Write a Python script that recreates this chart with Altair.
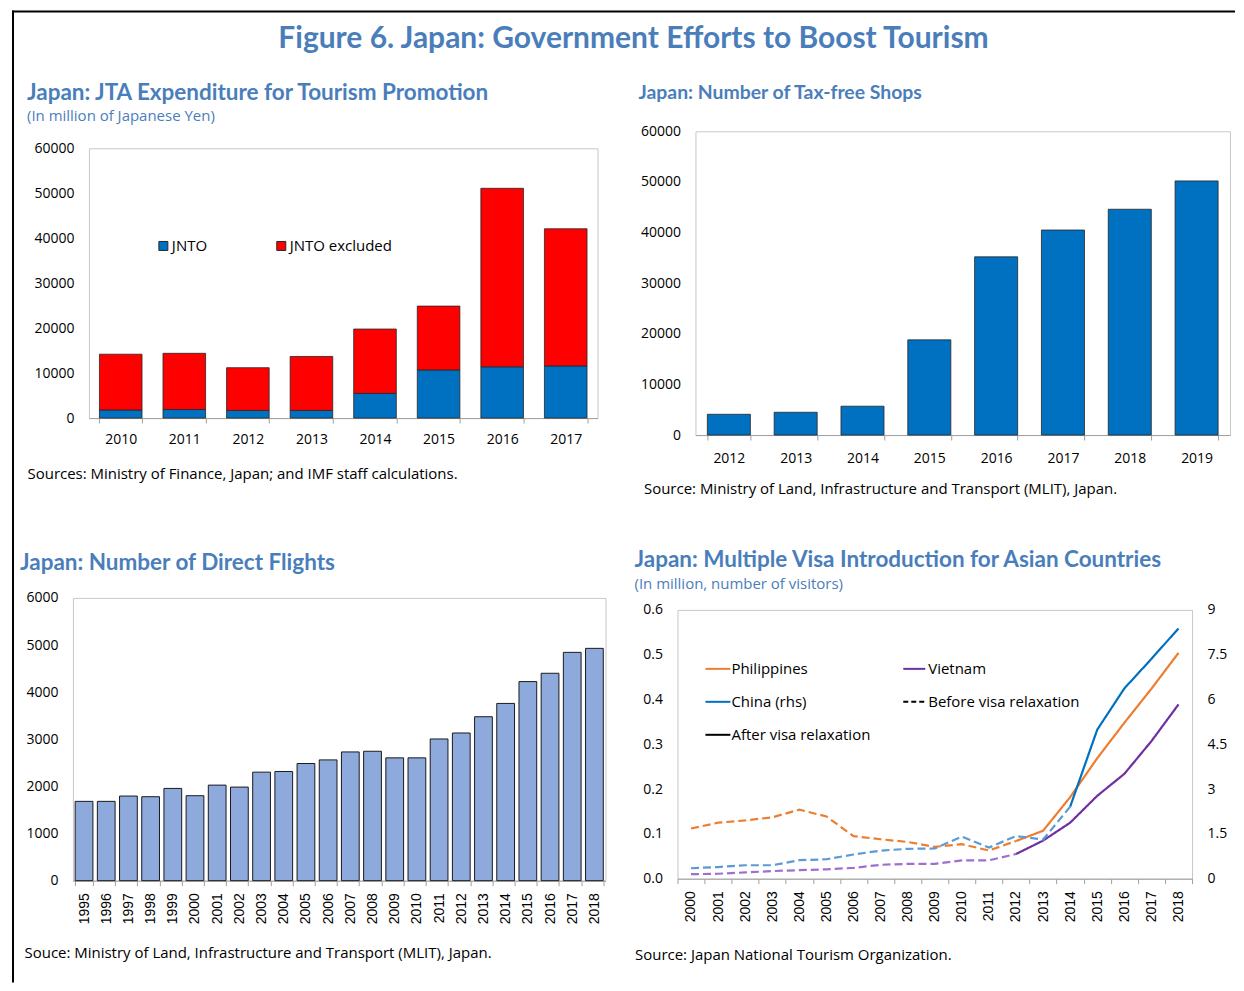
import altair as alt
import pandas as pd

TITLE_BLUE = "#4A7EBB"
TITLE_FONT = "Lato"
FONT = "Open Sans"
YEAR_FONT = "Liberation Sans"
FRAME_GREY = "#c8c8c8"
AXIS_GREY = "#a0a0a0"
BAR_EDGE = "#262626"

fig_title = "Figure 6. Japan: Government Efforts to Boost Tourism"

# ---------------- Panel 1: JTA expenditure ----------------
jta_title = "Japan: JTA Expenditure for Tourism Promotion"
jta_subtitle = "(In million of Japanese Yen)"
jta_source = "Sources: Ministry of Finance, Japan; and IMF staff calculations."
jta_years = ["2010", "2011", "2012", "2013", "2014", "2015", "2016", "2017"]
jnto = [1800, 1900, 1700, 1700, 5500, 10700, 11400, 11600]
jnto_excluded = [12400, 12500, 9500, 12000, 14300, 14200, 39700, 30500]
jta_series = ["JNTO", "JNTO excluded"]
jta_colors = ["#0070C0", "#FF0000"]
jta_ticks = [0, 10000, 20000, 30000, 40000, 50000, 60000]

# ---------------- Panel 2: tax-free shops ----------------
shop_title = "Japan: Number of Tax-free Shops"
shop_source = "Source: Ministry of Land, Infrastructure and Transport (MLIT), Japan."
shop_years = ["2012", "2013", "2014", "2015", "2016", "2017", "2018", "2019"]
tax_free_shops = [4100, 4500, 5700, 18800, 35200, 40500, 44600, 50200]
shop_ticks = [0, 10000, 20000, 30000, 40000, 50000, 60000]

# ---------------- Panel 3: direct flights ----------------
flight_title = "Japan: Number of Direct Flights"
flight_source = "Souce: Ministry of Land, Infrastructure and Transport (MLIT), Japan."
flight_years = ["1995", "1996", "1997", "1998", "1999", "2000", "2001", "2002",
                "2003", "2004", "2005", "2006", "2007", "2008", "2009", "2010",
                "2011", "2012", "2013", "2014", "2015", "2016", "2017", "2018"]
direct_flights = [1683, 1683, 1796, 1782, 1958, 1803, 2028, 1986,
                  2303, 2317, 2486, 2563, 2732, 2746, 2606, 2606,
                  3007, 3134, 3479, 3761, 4225, 4401, 4845, 4930]
flight_ticks = [0, 1000, 2000, 3000, 4000, 5000, 6000]

# ---------------- Panel 4: visitors ----------------
visa_title = "Japan: Multiple Visa Introduction for Asian Countries"
visa_subtitle = "(In million, number of visitors)"
visa_source = "Source: Japan National Tourism Organization."
visa_years = ["2000", "2001", "2002", "2003", "2004", "2005", "2006", "2007", "2008", "2009",
              "2010", "2011", "2012", "2013", "2014", "2015", "2016", "2017", "2018"]
philippines = [0.112, 0.125, 0.130, 0.137, 0.154, 0.139, 0.095, 0.088, 0.082, 0.071,
               0.077, 0.063, 0.084, 0.107, 0.182, 0.269, 0.348, 0.424, 0.504]
vietnam = [0.010, 0.011, 0.014, 0.017, 0.019, 0.021, 0.024, 0.031, 0.033, 0.033,
           0.041, 0.041, 0.055, 0.085, 0.125, 0.185, 0.234, 0.307, 0.389]
china = [0.35, 0.39, 0.45, 0.45, 0.62, 0.65, 0.81, 0.94, 1.00, 1.01,
         1.41, 1.04, 1.43, 1.31, 2.41, 4.99, 6.37, 7.36, 8.38]
visa_series = ["Philippines", "Vietnam", "China (rhs)"]
relax_year = ["2012", "2012", "2014"]
before_colors = ["#ED7D31", "#9E6FCF", "#5B9BD5"]
after_colors = ["#ED7D31", "#7030A0", "#0070C0"]
left_ticks = [0, 0.1, 0.2, 0.3, 0.4, 0.5, 0.6]
right_ticks = [0, 1.5, 3, 4.5, 6, 7.5, 9]
legend_labels = ["Philippines", "Vietnam", "China (rhs)", "Before visa relaxation", "After visa relaxation"]
legend_colors = ["#ED7D31", "#7030A0", "#0070C0", "#000000", "#000000"]
legend_phase = ["after", "after", "after", "before", "after"]


def source_axis(text, tx, ty, **kw):
    return alt.Axis(title=text, titleX=tx, titleY=ty, titleAlign="left", titleBaseline="middle",
                    titleFont=FONT, titleFontSize=15, titleFontWeight="normal", titleColor="black",
                    tickBand="extent", tickSize=5, domainColor=AXIS_GREY, tickColor=AXIS_GREY, **kw)


def value_axis(vals, fmt, **kw):
    return alt.Axis(values=vals, format=fmt, ticks=False, domain=False, grid=False,
                    labelPadding=15, title=None, **kw)


def spacer(w, h):
    return alt.Chart(pd.DataFrame({"v": [0]})).mark_point(opacity=0).properties(
        width=w, height=h, view=alt.ViewBackground(stroke=None))


# ---- frame border + main title (decorations, placed in a spacer) ----
one = pd.DataFrame({"t": [fig_title]})
border_left = alt.Chart(one).mark_rule(color="black", strokeWidth=2).encode(
    x=alt.value(-60), y=alt.value(-121), y2=alt.value(852))
border_top = alt.Chart(one).mark_rule(color="black", strokeWidth=2).encode(
    x=alt.value(-61), x2=alt.value(1163), y=alt.value(-120))
main_title = alt.Chart(one).mark_text(font=TITLE_FONT, fontSize=30, fontWeight="bold", color=TITLE_BLUE,
                                      align="center", baseline="middle").encode(
    text="t:N", x=alt.value(561), y=alt.value(-92))
deco = alt.layer(border_left, border_top, main_title).properties(
    width=16, height=304, view=alt.ViewBackground(stroke=None))

# ---- Panel 1 ----
n1 = len(jta_years)
df1 = pd.DataFrame({
    "year": jta_years * 2,
    "series": [jta_series[0]] * n1 + [jta_series[1]] * n1,
    "value": jnto + jnto_excluded,
    "stack_order": [0] * n1 + [1] * n1,
})
c1 = alt.Chart(df1).mark_bar(stroke=BAR_EDGE, strokeWidth=0.8).encode(
    x=alt.X("year:N", scale=alt.Scale(paddingInner=0.33, paddingOuter=0.165),
            axis=source_axis(jta_source, -62, 55, labelAngle=0, labelPadding=9)),
    y=alt.Y("value:Q", stack="zero", scale=alt.Scale(domain=[0, 60000], nice=False),
            axis=value_axis(jta_ticks, "d")),
    color=alt.Color("series:N", scale=alt.Scale(domain=jta_series, range=jta_colors),
                    legend=alt.Legend(title=None, orient="none", legendX=83, legendY=107,
                                      direction="horizontal", symbolType="square", symbolSize=81,
                                      symbolStrokeColor=BAR_EDGE, symbolStrokeWidth=1,
                                      labelFont=FONT, labelFontSize=15, labelOffset=1,
                                      columnPadding=66, padding=0)),
    order=alt.Order("stack_order:Q"),
).properties(width=509, height=270,
             title=alt.TitleParams(text=jta_title, subtitle=jta_subtitle, fontSize=22.5,
                                   subtitleFontSize=15, dx=-62, offset=17, subtitlePadding=5))

# ---- Panel 2 ----
df2 = pd.DataFrame({"year": shop_years, "shops": tax_free_shops})
c2 = alt.Chart(df2).mark_bar(color="#0070C0", stroke=BAR_EDGE, strokeWidth=0.8).encode(
    x=alt.X("year:N", scale=alt.Scale(paddingInner=0.356, paddingOuter=0.178),
            axis=source_axis(shop_source, -52, 53, labelAngle=0, labelPadding=11)),
    y=alt.Y("shops:Q", scale=alt.Scale(domain=[0, 60000], nice=False),
            axis=value_axis(shop_ticks, "d")),
).properties(width=535, height=304,
             title=alt.TitleParams(text=shop_title, fontSize=19.4, dx=-57, offset=21))

# ---- Panel 3 ----
df3 = pd.DataFrame({"year": flight_years, "flights": direct_flights})
c3 = alt.Chart(df3).mark_bar(color="#8EA9DB", stroke="#1a1a1a", strokeWidth=1).encode(
    x=alt.X("year:N", scale=alt.Scale(paddingInner=0.2, paddingOuter=0.1),
            axis=source_axis(flight_source, -49, 72, labelAngle=-90, labelFont=YEAR_FONT,
                             labelFontSize=14, labelPadding=7)),
    y=alt.Y("flights:Q", scale=alt.Scale(domain=[0, 6000], nice=False),
            axis=value_axis(flight_ticks, "d")),
).properties(width=533, height=283,
             title=alt.TitleParams(text=flight_title, fontSize=22.5, dx=-53, offset=16))

# ---- Panel 4 ----
rows = []
for name, vals, ry, cb, ca in zip(visa_series, [philippines, vietnam, china], relax_year,
                                  before_colors, after_colors):
    for yr, v in zip(visa_years, vals):
        if yr <= ry:
            rows.append({"year": yr, "value": v, "series": name, "phase": "before",
                         "key": name + " before", "color": cb})
        if yr >= ry:
            rows.append({"year": yr, "value": v, "series": name, "phase": "after",
                         "key": name + " after", "color": ca})
df4 = pd.DataFrame(rows)

x4 = alt.X("year:O", bandPosition=0.5,
           scale=alt.Scale(type="band", paddingInner=0, paddingOuter=0),
           axis=source_axis(visa_source, -43, 76, labelAngle=-90, labelFont=YEAR_FONT,
                            labelFontSize=14, labelPadding=7))
dash = alt.StrokeDash("phase:N", scale=alt.Scale(domain=["before", "after"], range=[[8, 4], [1, 0]]),
                      legend=None)

left_lines = alt.Chart(df4).transform_filter(alt.datum.series != "China (rhs)").mark_line(
    strokeWidth=2.2).encode(
    x=x4,
    y=alt.Y("value:Q", scale=alt.Scale(domain=[0, 0.6], nice=False),
            axis=value_axis(left_ticks, ".1f", orient="left")),
    color=alt.Color("color:N", scale=None),
    strokeDash=dash,
    detail="key:N",
)
right_lines = alt.Chart(df4).transform_filter(alt.datum.series == "China (rhs)").mark_line(
    strokeWidth=2.2).encode(
    x=alt.X("year:O", bandPosition=0.5),
    y=alt.Y("value:Q", scale=alt.Scale(domain=[0, 9], nice=False),
            axis=value_axis(right_ticks, ".1~f", orient="right")),
    color=alt.Color("color:N", scale=None),
    strokeDash=dash,
    detail="key:N",
)

leg_col = [0, 1, 0, 1, 0]
leg_row = [0, 0, 1, 1, 2]
col_x0, col_x1, col_tx = [28, 226], [53, 248], [54, 251]
leg_df = pd.DataFrame({
    "label": legend_labels,
    "color": legend_colors,
    "phase": legend_phase,
    "x0": [col_x0[c] for c in leg_col],
    "x1": [col_x1[c] for c in leg_col],
    "tx": [col_tx[c] for c in leg_col],
    "ly": [59 + 33 * r for r in leg_row],
})
leg_solid = alt.Chart(leg_df).transform_filter(alt.datum.phase == "after").mark_rule(strokeWidth=2).encode(
    x=alt.X("x0:Q", scale=None, axis=None), x2="x1:Q",
    y=alt.Y("ly:Q", scale=None, axis=None), color=alt.Color("color:N", scale=None))
leg_dashed = alt.Chart(leg_df).transform_filter(alt.datum.phase == "before").mark_rule(
    strokeWidth=2, strokeDash=[5, 3]).encode(
    x=alt.X("x0:Q", scale=None, axis=None), x2="x1:Q",
    y=alt.Y("ly:Q", scale=None, axis=None), color=alt.Color("color:N", scale=None))
leg_text = alt.Chart(leg_df).mark_text(align="left", baseline="middle", font=FONT, fontSize=15,
                                       color="black").encode(
    x=alt.X("tx:Q", scale=None, axis=None), y=alt.Y("ly:Q", scale=None, axis=None), text="label:N")

c4 = alt.layer(left_lines, right_lines, leg_solid, leg_dashed, leg_text).resolve_scale(
    y="independent").properties(
    width=515, height=269,
    title=alt.TitleParams(text=visa_title, subtitle=visa_subtitle, fontSize=22.5,
                          subtitleFontSize=15, dx=-43, offset=11, subtitlePadding=5))

# ---- layout ----
# nested flush groups report no height of their own, so the row gap includes row 1's plot height (304)
row1 = alt.hconcat(deco, alt.hconcat(c1, c2, spacing=98, bounds="flush", center=True),
                   spacing=0, bounds="flush")
row2 = alt.hconcat(c3, alt.vconcat(spacer(515, 12), c4, spacing=0, bounds="flush"),
                   spacing=72, bounds="flush")

chart = alt.vconcat(row1, row2, spacing=467, bounds="flush").properties(
    padding={"left": 3, "top": 1, "right": 0, "bottom": 0}
).configure_view(stroke=FRAME_GREY, strokeWidth=1).configure_axis(
    labelFont=FONT, labelFontSize=14, labelColor="black", grid=False
).configure_title(
    font=TITLE_FONT, fontWeight="bold", color=TITLE_BLUE, anchor="start", frame="group",
    subtitleFont=FONT, subtitleColor=TITLE_BLUE, subtitleFontWeight="normal"
).configure_legend(labelColor="black")

chart.save("out.html", embed_options={"renderer": "svg", "actions": False})
